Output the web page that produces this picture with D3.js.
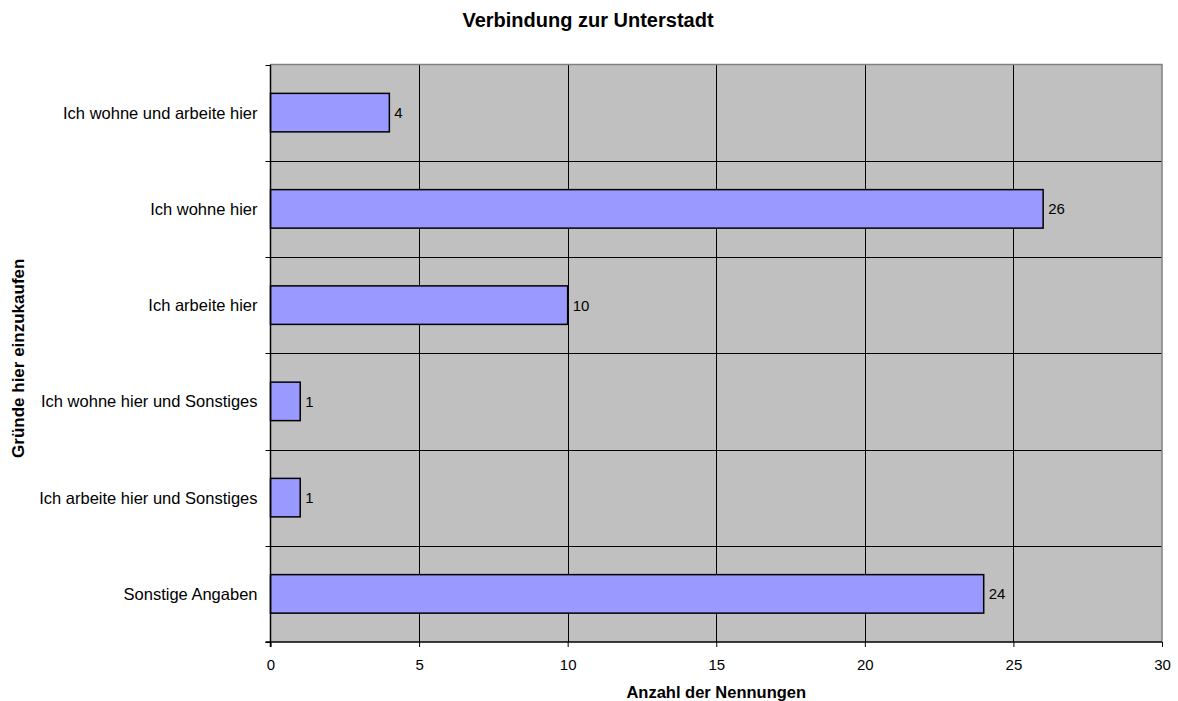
<!DOCTYPE html>
<html>
<head>
<meta charset="utf-8">
<script src="https://cdn.jsdelivr.net/npm/d3@7/dist/d3.min.js"></script>
<style>
  html, body { margin: 0; padding: 0; background: #fff; }
  svg { display: block; font-family: "Liberation Sans", Arial, sans-serif; }
</style>
</head>
<body>
<svg id="chart" width="1178" height="701"></svg>
<script>
// Reasons for shopping here, top to bottom
const categories = [
  "Ich wohne und arbeite hier",
  "Ich wohne hier",
  "Ich arbeite hier",
  "Ich wohne hier und Sonstiges",
  "Ich arbeite hier und Sonstiges",
  "Sonstige Angaben"
];
const counts = [4, 26, 10, 1, 1, 24];
const xTicks = [0, 5, 10, 15, 20, 25, 30];

const title = "Verbindung zur Unterstadt";
const xTitle = "Anzahl der Nennungen";
const yTitle = "Gründe hier einzukaufen";

const svg = d3.select("#chart");
const plot = { left: 270.5, top: 64.5, right: 1162, bottom: 642 };

const x = d3.scaleLinear().domain([0, 30]).range([plot.left, plot.right]);
const y = d3.scaleBand().domain(categories).range([plot.top, plot.bottom]).padding(0);

// plot background
svg.append("rect")
  .attr("x", plot.left).attr("y", plot.top)
  .attr("width", plot.right - plot.left).attr("height", plot.bottom - plot.top)
  .attr("fill", "#c0c0c0");

// vertical gridlines
svg.append("g").selectAll("line")
  .data(xTicks.filter(t => t > 0 && t < 30))
  .join("line")
  .attr("x1", d => Math.round(x(d)) + 0.5).attr("x2", d => Math.round(x(d)) + 0.5)
  .attr("y1", plot.top).attr("y2", plot.bottom)
  .attr("stroke", "#000").attr("stroke-width", 1);

// horizontal lines between categories
svg.append("g").selectAll("line")
  .data(categories.slice(1))
  .join("line")
  .attr("x1", plot.left).attr("x2", plot.right)
  .attr("y1", d => Math.round(y(d)) + 0.5).attr("y2", d => Math.round(y(d)) + 0.5)
  .attr("stroke", "#000").attr("stroke-width", 1);

// top and right frame
svg.append("path")
  .attr("d", `M${plot.left},${plot.top}H${plot.right}V${plot.bottom}`)
  .attr("fill", "none").attr("stroke", "#808080").attr("stroke-width", 1.5);

// bars
const barH = y.bandwidth() * 0.4;
svg.append("g").selectAll("rect")
  .data(categories)
  .join("rect")
  .attr("x", x(0))
  .attr("y", d => y(d) + (y.bandwidth() - barH) / 2)
  .attr("width", (d, i) => x(counts[i]) - x(0))
  .attr("height", barH)
  .attr("fill", "#9999ff")
  .attr("stroke", "#000").attr("stroke-width", 1.5);

// value labels
svg.append("g").selectAll("text")
  .data(categories)
  .join("text")
  .attr("x", (d, i) => x(counts[i]) + 5)
  .attr("y", d => y(d) + y.bandwidth() / 2)
  .attr("dy", "0.36em")
  .attr("font-size", 15)
  .attr("fill", "#000")
  .text((d, i) => counts[i]);

// x axis
const xAxis = svg.append("g")
  .attr("transform", `translate(0,${plot.bottom})`)
  .call(d3.axisBottom(x).tickValues(xTicks).tickSize(5).tickPadding(12));
xAxis.select(".domain").attr("stroke", "#000").attr("stroke-width", 1.5)
  .attr("d", `M${plot.left - 5},0H${plot.right}`);
xAxis.selectAll(".tick line").attr("stroke", "#000");
xAxis.selectAll(".tick text").attr("font-size", 15).attr("font-family", "Liberation Sans, Arial, sans-serif").attr("fill", "#000");

// y axis: ticks at category boundaries
const yBounds = categories.map(c => y(c)).concat([plot.bottom]);
const yAxisG = svg.append("g");
yAxisG.append("line")
  .attr("x1", plot.left).attr("x2", plot.left)
  .attr("y1", plot.top).attr("y2", plot.bottom + 5)
  .attr("stroke", "#000").attr("stroke-width", 1.5);
yAxisG.selectAll("line.tick")
  .data(yBounds)
  .join("line")
  .attr("class", "tick")
  .attr("x1", plot.left - 5).attr("x2", plot.left)
  .attr("y1", d => Math.round(d) + 0.5).attr("y2", d => Math.round(d) + 0.5)
  .attr("stroke", "#000").attr("stroke-width", 1);
yAxisG.selectAll("text")
  .data(categories)
  .join("text")
  .attr("x", plot.left - 13)
  .attr("y", d => y(d) + y.bandwidth() / 2)
  .attr("dy", "0.36em")
  .attr("text-anchor", "end")
  .attr("font-size", 16.5)
  .attr("fill", "#000")
  .text(d => d);

// titles
svg.append("text")
  .attr("x", 588).attr("y", 27)
  .attr("text-anchor", "middle")
  .attr("font-size", 20).attr("font-weight", "bold")
  .text(title);

svg.append("text")
  .attr("x", (plot.left + plot.right) / 2).attr("y", 698)
  .attr("text-anchor", "middle")
  .attr("font-size", 16.5).attr("font-weight", "bold")
  .text(xTitle);

svg.append("text")
  .attr("transform", `translate(24,${(plot.top + plot.bottom) / 2 + 5}) rotate(-90)`)
  .attr("text-anchor", "middle")
  .attr("font-size", 17).attr("font-weight", "bold")
  .text(yTitle);
</script>
</body>
</html>
